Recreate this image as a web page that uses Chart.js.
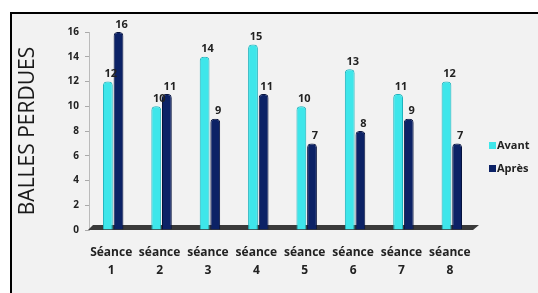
<!DOCTYPE html>
<html>
<head>
<meta charset="utf-8">
<script src="https://cdn.jsdelivr.net/npm/chart.js@4/dist/chart.umd.min.js"></script>
<style>
  html, body { margin: 0; padding: 0; background: #fff; }
  #wrap { width: 538px; height: 293px; }
</style>
</head>
<body>
<div id="wrap"><canvas id="chart" width="538" height="293"></canvas></div>
<script>
// Data
const seances = [['Séance', '1'], ['séance', '2'], ['séance', '3'], ['séance', '4'],
                 ['séance', '5'], ['séance', '6'], ['séance', '7'], ['séance', '8']];
const avant = [12, 10, 14, 15, 10, 13, 11, 12];
const apres = [16, 11, 9, 11, 7, 8, 9, 7];
const seriesNames = ['Avant', 'Après'];

const FONT = '"Open Sans", Lato, sans-serif';

// gray frame with black top/left border
const framePlugin = {
    id: 'frame',
    beforeDraw(chart) {
        const c = chart.ctx;
        c.save();
        c.fillStyle = '#fff';
        c.fillRect(0, 0, chart.width, chart.height);
        c.fillStyle = '#f2f2f2';
        c.fillRect(11, 14, chart.width - 11, chart.height - 14);
        c.fillStyle = '#000';
        c.fillRect(10, 12, chart.width - 10, 2);
        c.fillRect(10, 12, 2, chart.height - 12);
        c.restore();
    }
};

// dark 3D floor under the bars
const floorPlugin = {
    id: 'floor',
    beforeDatasetsDraw(chart) {
        const c = chart.ctx, a = chart.chartArea;
        const y0 = chart.scales.y.getPixelForValue(0);
        c.save();
        c.fillStyle = '#3a3a3a';
        c.beginPath();
        c.moveTo(a.left + 4, y0 - 5);
        c.lineTo(a.right + 3, y0 - 5);
        c.lineTo(a.right - 3, y0);
        c.lineTo(a.left - 1, y0);
        c.closePath();
        c.fill();
        c.restore();
    }
};

// value labels above bars + legend on the right
const labelPlugin = {
    id: 'labels',
    afterDatasetsDraw(chart) {
        const c = chart.ctx;
        c.save();
        c.font = 'bold 11px ' + FONT;
        c.fillStyle = '#222';
        c.textAlign = 'center';
        c.textBaseline = 'bottom';
        chart.data.datasets.forEach((ds, i) => {
            chart.getDatasetMeta(i).data.forEach((bar, j) => {
                c.fillText(ds.data[j], bar.x + 3, bar.y - 2);
            });
        });
        // legend
        c.textAlign = 'left';
        c.textBaseline = 'middle';
        c.font = 'bold 11px ' + FONT;
        chart.data.datasets.forEach((ds, i) => {
            const y = 146 + i * 23;
            c.fillStyle = ds.backgroundColor;
            c.fillRect(489, y - 4, 7, 7);
            c.fillStyle = '#222';
            c.fillText(ds.label, 497, y);
        });
        c.restore();
    }
};

new Chart(document.getElementById('chart'), {
    type: 'bar',
    data: {
        labels: seances,
        datasets: [{
            label: seriesNames[0],
            data: avant,
            backgroundColor: '#3ee6ea',
            borderColor: '#1fb3bd',
            borderWidth: 1,
            borderSkipped: 'bottom',
            borderRadius: { topLeft: 4, topRight: 4 }
        }, {
            label: seriesNames[1],
            data: apres,
            backgroundColor: '#0c2266',
            borderColor: '#06123d',
            borderWidth: 1,
            borderSkipped: 'bottom',
            borderRadius: { topLeft: 4, topRight: 4 }
        }]
    },
    options: {
        responsive: false,
        animation: false,
        layout: { padding: { top: 32, right: 62, left: 0, bottom: 0 } },
        categoryPercentage: 0.44,
        barPercentage: 0.92,
        plugins: {
            legend: { display: false },
            tooltip: { enabled: false }
        },
        scales: {
            x: {
                grid: { display: false },
                border: { display: false },
                ticks: {
                    color: '#222',
                    font: { family: FONT, weight: 'bold', size: 12, lineHeight: 1.5 },
                    padding: 6,
                    labelOffset: -2,
                    maxRotation: 0,
                    autoSkip: false
                },
                afterFit(scale) { scale.height = 63; }
            },
            y: {
                min: 0,
                max: 16,
                ticks: {
                    stepSize: 2,
                    color: '#222',
                    font: { family: FONT, weight: 'bold', size: 10 },
                    padding: 6
                },
                grid: { drawOnChartArea: false, tickLength: 4, color: '#aaa' },
                border: { color: '#bbb' },
                title: {
                    display: true,
                    text: 'BALLES PERDUES',
                    color: '#1a1a1a',
                    font: { family: FONT, size: 21 },
                    padding: { top: 15, bottom: 0 }
                },
                afterFit(scale) { scale.width = 89; }
            }
        }
    },
    plugins: [framePlugin, floorPlugin, labelPlugin]
});
</script>
</body>
</html>
